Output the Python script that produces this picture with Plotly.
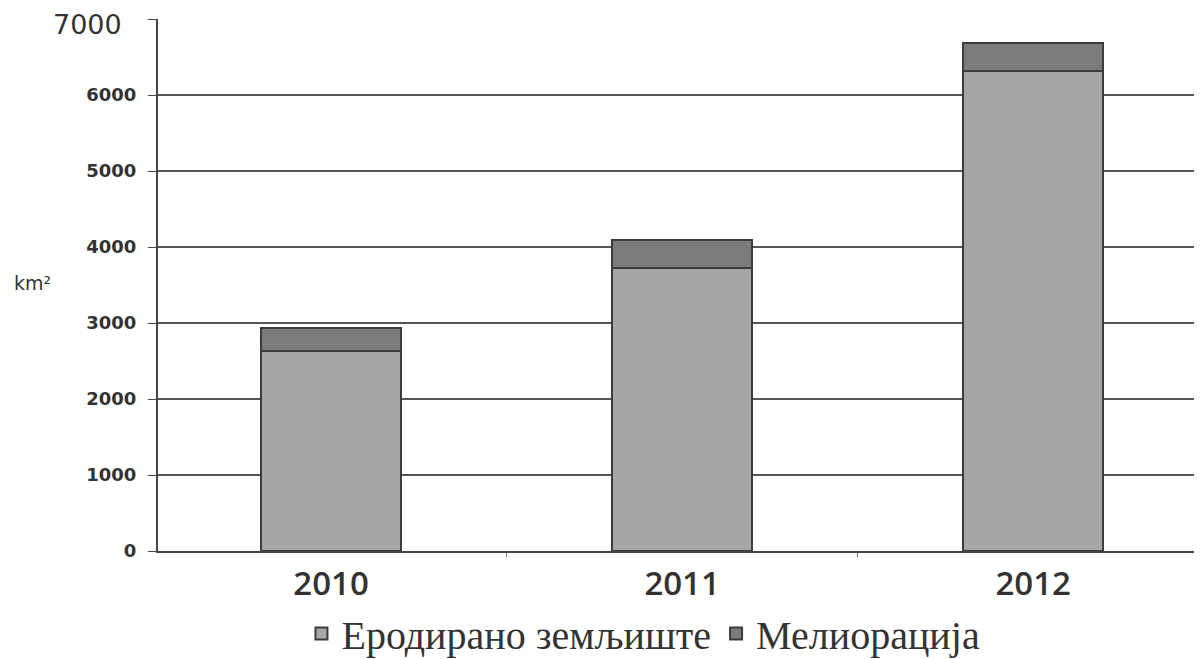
import plotly.graph_objects as go

years = ["2010", "2011", "2012"]
erodirano = [2630, 3720, 6320]
melioracija = [300, 370, 360]
y_ticks = [0, 1000, 2000, 3000, 4000, 5000, 6000, 7000]
y_ticktext = ["0", "1000", "2000", "3000", "4000", "5000", "6000", ""]
top_label = "7000"

fig = go.Figure()
fig.add_trace(go.Bar(x=years, y=erodirano, name="Еродирано земљиште",
                     marker=dict(color="#a6a6a6", line=dict(color="#3c3c3c", width=2))))
fig.add_trace(go.Bar(x=years, y=melioracija, name="Мелиорација",
                     marker=dict(color="#7b7b7b", line=dict(color="#3c3c3c", width=2))))

fig.update_layout(
    barmode="stack",
    bargap=0.6,
    width=1194, height=651,
    margin=dict(l=150, r=0, t=11, b=108, autoexpand=False),
    paper_bgcolor="white", plot_bgcolor="white",
    showlegend=True,
    legend=dict(orientation="h", x=0.465, xanchor="center", y=-0.155, yanchor="middle",
                font=dict(family="Liberation Serif", size=40, color="#333333"),
                itemwidth=30, traceorder="normal"),
    xaxis=dict(range=[-0.493, 2.481], showline=True, linecolor="#444444", linewidth=1.5,
               ticks="outside", tickson="boundaries", ticklen=4, tickcolor="#777777",
               automargin=False, ticklabelstandoff=3,
               tickfont=dict(family="Open Sans", size=33, color="#333333", weight=600)),
    yaxis=dict(range=[0, 7000], tickvals=y_ticks, ticktext=y_ticktext,
               showline=True, linecolor="#444444", linewidth=2,
               showgrid=True, gridcolor="#555555", gridwidth=2,
               ticks="outside", ticklen=8, tickcolor="#444444",
               automargin=False, ticklabelstandoff=8, ticklabeloverflow="allow",
               tickfont=dict(family="DejaVu Sans", size=18, color="#333333", weight="bold"),
               zeroline=False),
    annotations=[
        dict(text="km²", xref="paper", yref="y", x=-0.12, y=3530,
             xanchor="center", yanchor="middle", showarrow=False,
             font=dict(family="DejaVu Sans", size=19, color="#333333")),
        dict(text=top_label, xref="paper", yref="y", x=-0.0335, y=y_ticks[-1],
             xanchor="right", yanchor="middle", showarrow=False, yshift=-5,
             borderpad=0,
             font=dict(family="DejaVu Sans", size=27, color="#333333")),
    ],
)
fig.write_html("out.html")
